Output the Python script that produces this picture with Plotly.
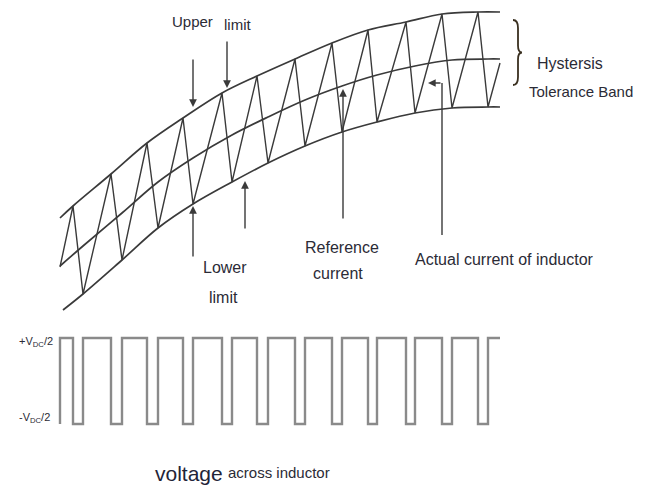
import plotly.graph_objects as go

# ---- band curves (pixel units of the 652x488 canvas) ----
upper_x = [60, 73, 111, 147, 183, 222, 257, 295, 332, 368, 406, 442, 478, 500]
upper_y = [218, 206, 174, 143, 118, 93, 76, 59, 43, 30, 22, 14, 12, 12]
ref_x = [60, 83, 122, 158, 193, 232, 268, 305, 342, 377, 415, 452, 488, 500]
ref_y = [266, 246, 213, 182, 158, 135, 117, 100, 86, 75, 66, 60, 59, 59]
lower_x = [63, 83, 122, 158, 193, 232, 268, 305, 342, 377, 415, 452, 488, 500]
lower_y = [310, 294, 260, 228, 204, 182, 163, 146, 132, 122, 113, 108, 107, 107]

# ---- actual inductor current (zig-zag vertices) ----
start_pt = (60, 267)
peak_x = [73, 111, 147, 183, 222, 257, 295, 332, 368, 406, 442, 478]
peak_y = [206, 174, 143, 118, 93, 76, 59, 43, 30, 22, 14, 12]
valley_x = [83, 122, 158, 193, 232, 268, 305, 342, 377, 415, 452, 488]
valley_y = [294, 260, 228, 204, 182, 163, 146, 132, 122, 113, 108, 107]
end_pt = (500, 63)

# ---- inductor voltage (square wave) ----
v_high = 338
v_low = 424
wave_start = 60
wave_end = 500

INK = "#3a3a3a"
TXT = "#2b2b36"
FONT = "Liberation Sans, Arial"

fig = go.Figure()

for xs, ys in [(upper_x, upper_y), (ref_x, ref_y), (lower_x, lower_y)]:
    fig.add_trace(go.Scatter(x=xs, y=ys, mode="lines",
                             line=dict(color=INK, width=1.7, shape="spline"),
                             hoverinfo="skip"))

zx = [start_pt[0]]
zy = [start_pt[1]]
for px, py, vx, vy in zip(peak_x, peak_y, valley_x, valley_y):
    zx += [px, vx]
    zy += [py, vy]
zx.append(end_pt[0])
zy.append(end_pt[1])
fig.add_trace(go.Scatter(x=zx, y=zy, mode="lines",
                         line=dict(color=INK, width=1.4), hoverinfo="skip"))

sx = [wave_start, wave_start]
sy = [v_low, v_high]
for px, vx in zip(peak_x, valley_x):
    sx += [px, px, vx, vx]
    sy += [v_high, v_low, v_low, v_high]
sx.append(wave_end)
sy.append(v_high)
fig.add_trace(go.Scatter(x=sx, y=sy, mode="lines",
                         line=dict(color="#8a8a8a", width=2.4), hoverinfo="skip"))

# leader line of "Actual current of inductor"
act_x = 442
fig.add_trace(go.Scatter(x=[act_x, act_x], y=[235, 83], mode="lines",
                         line=dict(color=INK, width=1.4), hoverinfo="skip"))

def arrow(x0, y0, x1, y1):
    fig.add_annotation(x=x1, y=y1, ax=x0, ay=y0, xref="x", yref="y",
                       axref="x", ayref="y", text="", showarrow=True,
                       arrowhead=2, arrowsize=1.1, arrowwidth=1.4,
                       arrowcolor=INK)

arrow(193, 58, 193, 107)
arrow(227, 40, 227, 88)
arrow(193, 258, 193, 206)
arrow(245, 230, 245, 181)
arrow(343, 220, 343, 89)
arrow(act_x, 83, 428, 83)

def label(x, y, text, size=16, anchor="center", color=TXT):
    fig.add_annotation(x=x, y=y, xref="x", yref="y", text=text,
                       showarrow=False, xanchor=anchor, yanchor="middle",
                       font=dict(family=FONT, size=size, color=color))

label(192, 21, "Upper", size=15)
label(237, 24, "limit", size=15)
label(225, 267, "Lower")
label(223, 297, "limit")
label(342, 247, "Reference")
label(338, 273, "current")
label(413, 259, "Actual current of inductor", anchor="left")
label(535, 63, "Hystersis", anchor="left")
label(527, 91, "Tolerance Band", size=15, anchor="left")
label(17, 342, "+V<sub>DC</sub>/2", size=11, anchor="left")
label(17, 418, "-V<sub>DC</sub>/2", size=11, anchor="left")
label(153, 473, "voltage", size=21, anchor="left", color="#1f2438")
label(226, 472, "across inductor", size=15, anchor="left")

# brace
bx, btop, bbot = 513, 20, 85
bmid = (btop + bbot) / 2
fig.add_shape(type="path", xref="x", yref="y",
              path=(f"M {bx},{btop} Q {bx+5},{btop} {bx+5},{btop+8} L {bx+5},{bmid-7} "
                    f"Q {bx+5},{bmid} {bx+9},{bmid} Q {bx+5},{bmid} {bx+5},{bmid+7} "
                    f"L {bx+5},{bbot-8} Q {bx+5},{bbot} {bx},{bbot}"),
              line=dict(color="#3a3020", width=1.8))

fig.update_layout(width=652, height=488, margin=dict(l=0, r=0, t=0, b=0),
                  paper_bgcolor="white", plot_bgcolor="white", showlegend=False,
                  xaxis=dict(range=[0, 652], visible=False, fixedrange=True),
                  yaxis=dict(range=[488, 0], visible=False, fixedrange=True))

fig.write_html("out.html", config={"displayModeBar": False},
               post_script="document.body.style.margin='0';"
                           "document.body.style.overflow='hidden';")
